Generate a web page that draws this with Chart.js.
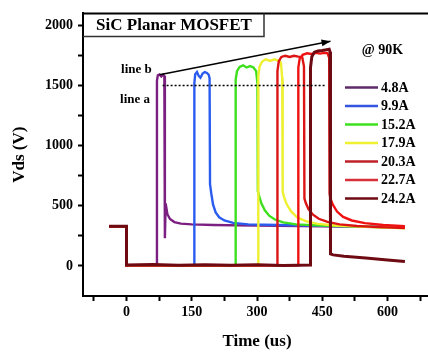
<!DOCTYPE html>
<html>
<head>
<meta charset="utf-8">
<script src="https://cdn.jsdelivr.net/npm/chart.js@4.4.1/dist/chart.umd.min.js"></script>
<style>
    html, body { margin: 0; padding: 0; background: #fff; overflow: hidden; }
</style>
</head>
<body>
<canvas id="chart" width="434" height="354"></canvas>
<script>
// series labels and colours
const currents = ['4.8A', '9.9A', '15.2A', '17.9A', '20.3A', '22.7A', '24.2A'];
const traceColors = ['#7b2080', '#2a5cf0', '#3ee01e', '#eef030', '#dc1414', '#f01212', '#6e0a12'];
const legendColors = ['#5e2a6a', '#3355e0', '#3ee01e', '#eef030', '#c0202a', '#d8303a', '#6e0a12'];

// time (us) / Vds (V)
const time48 = [-40, 0, 0, 70, 70, 72, 76, 80, 84, 87, 88, 88.5, 90, 94, 100, 110, 125, 150, 200, 300, 450, 640];
const vds48  = [330, 330, 5, 5, 1540, 1585, 1592, 1575, 1590, 1580, 1520, 230, 520, 430, 390, 365, 352, 346, 340, 335, 330, 322];

const time99 = [-40, 0, 0, 156, 156, 158, 162, 166, 170, 175, 180, 185, 189, 191, 192, 195, 199, 205, 213, 225, 245, 280, 350, 450, 640];
const vds99  = [330, 330, 5, 5, 1520, 1595, 1612, 1580, 1565, 1600, 1612, 1605, 1590, 1560, 680, 600, 510, 445, 405, 378, 358, 346, 340, 333, 322];

const time152 = [-40, 0, 0, 251, 251, 254, 260, 268, 276, 284, 292, 298, 301, 302, 305, 310, 318, 328, 340, 360, 390, 450, 640];
const vds152  = [330, 330, 5, 5, 1550, 1620, 1655, 1668, 1650, 1662, 1650, 1620, 1520, 620, 580, 520, 462, 418, 388, 362, 346, 335, 318];

const time179 = [-40, 0, 0, 303, 303, 306, 312, 320, 330, 340, 350, 355, 358, 359, 362, 368, 378, 392, 412, 440, 480, 550, 640];
const vds179  = [330, 330, 5, 5, 1580, 1660, 1700, 1718, 1705, 1718, 1705, 1690, 1560, 620, 575, 515, 455, 405, 372, 350, 336, 326, 314];

const time203 = [-40, 0, 0, 347, 347, 350, 356, 365, 375, 385, 395, 404, 408, 409, 412, 418, 428, 442, 462, 490, 530, 580, 640];
const vds203  = [330, 330, 5, 5, 1620, 1700, 1738, 1748, 1738, 1748, 1740, 1735, 1660, 560, 525, 475, 428, 392, 366, 346, 332, 323, 316];

const time227 = [-40, 0, 0, 395, 395, 398, 405, 415, 425, 435, 445, 455, 462, 466, 467, 469, 474, 484, 498, 518, 548, 590, 640];
const vds227  = [330, 330, 5, 5, 1650, 1722, 1756, 1768, 1762, 1772, 1766, 1772, 1770, 1730, 600, 560, 512, 452, 408, 378, 356, 340, 330];

const time242 = [-40, 0, 0, 60, 120, 180, 240, 300, 360, 423, 423, 426, 432, 440, 450, 460, 466, 468, 469, 475, 500, 550, 600, 640];
const vds242  = [330, 330, 8, 12, 6, 10, 5, 9, 4, 8, 1650, 1740, 1778, 1788, 1792, 1798, 1802, 1780, 100, 92, 80, 66, 50, 36];

// annotation lines
const lineATime = [83, 458];
const lineAVds  = [1500, 1500];
const lineBTime = [76, 469];
const lineBVds  = [1590, 1869];

// axis ticks
const xTicks  = [-75, 0, 75, 150, 225, 300, 375, 450, 525, 600, 675];
const xLabels = [0, 150, 300, 450, 600];
const yTicks  = [0, 250, 500, 750, 1000, 1250, 1500, 1750, 2000];
const yLabels = [0, 500, 1000, 1500, 2000];

const FONT = '"Liberation Serif", "Times New Roman", serif';

function pairs(t, v) {
    return t.map((x, i) => ({ x: x, y: v[i] }));
}

const traces = [
    [time48, vds48], [time99, vds99], [time152, vds152], [time179, vds179],
    [time203, vds203], [time227, vds227], [time242, vds242]
];

const datasets = traces.map((tr, i) => ({
    label: currents[i],
    data: pairs(tr[0], tr[1]),
    borderColor: traceColors[i],
    borderWidth: i === 6 ? 3 : 2.4,
    pointRadius: 0,
    tension: 0,
    fill: false,
    order: 20 - i   // later currents drawn on top
}));

datasets.push({
    label: 'line a',
    data: pairs(lineATime, lineAVds),
    borderColor: '#000',
    borderWidth: 1.6,
    borderDash: [2, 2],
    pointRadius: 0,
    order: 1
});
datasets.push({
    label: 'line b',
    data: pairs(lineBTime, lineBVds),
    borderColor: '#000',
    borderWidth: 1.5,
    pointRadius: 0,
    order: 0
});

const decor = {
    id: 'decor',
    afterDraw(chart) {
        const ctx = chart.ctx;
        const a = chart.chartArea;
        const xs = chart.scales.x, ys = chart.scales.y;
        ctx.save();

        // top frame
        ctx.strokeStyle = '#000';
        ctx.lineWidth = 2;
        ctx.beginPath();
        ctx.moveTo(a.left - 1, a.top);
        ctx.lineTo(a.right, a.top);
        ctx.lineTo(a.right, a.bottom);
        ctx.stroke();

        // title box
        ctx.lineWidth = 1.5;
        ctx.strokeStyle = '#333';
        ctx.beginPath();
        ctx.moveTo(a.left, a.top + 23);
        ctx.lineTo(a.left + 181, a.top + 23);
        ctx.lineTo(a.left + 181, a.top);
        ctx.stroke();
        ctx.fillStyle = '#000';
        ctx.font = 'bold 17px ' + FONT;
        ctx.textAlign = 'center';
        ctx.textBaseline = 'middle';
        ctx.fillText('SiC Planar MOSFET', a.left + 91, a.top + 12.5);

        // arrow head on line b
        const x1 = xs.getPixelForValue(lineBTime[0]), y1 = ys.getPixelForValue(lineBVds[0]);
        const x2 = xs.getPixelForValue(lineBTime[1]), y2 = ys.getPixelForValue(lineBVds[1]);
        const ang = Math.atan2(y2 - y1, x2 - x1);
        ctx.beginPath();
        ctx.moveTo(x2, y2);
        ctx.lineTo(x2 - 9 * Math.cos(ang) + 3.5 * Math.sin(ang), y2 - 9 * Math.sin(ang) - 3.5 * Math.cos(ang));
        ctx.lineTo(x2 - 9 * Math.cos(ang) - 3.5 * Math.sin(ang), y2 - 9 * Math.sin(ang) + 3.5 * Math.cos(ang));
        ctx.closePath();
        ctx.fill();

        // line labels
        ctx.font = 'bold 13px ' + FONT;
        ctx.textAlign = 'right';
        ctx.fillText('line b', xs.getPixelForValue(58), ys.getPixelForValue(1634));
        ctx.fillText('line a', xs.getPixelForValue(54), ys.getPixelForValue(1382));

        // temperature
        ctx.font = 'bold 14px ' + FONT;
        ctx.textAlign = 'center';
        ctx.fillText('@ 90K', 382.5, a.top + 37);

        // legend
        ctx.textAlign = 'left';
        currents.forEach((c, i) => {
            const y = a.top + 74 + i * 18.5;
            ctx.strokeStyle = legendColors[i];
            ctx.lineWidth = 2.5;
            ctx.beginPath();
            ctx.moveTo(345, y);
            ctx.lineTo(378, y);
            ctx.stroke();
            ctx.fillStyle = '#000';
            ctx.fillText(c, 381, y + 0.5);
        });
        ctx.restore();
    }
};

window.onload = () => {
    const ctx = document.getElementById('chart').getContext('2d');
    new Chart(ctx, {
        type: 'line',
        data: { datasets: datasets },
        options: {
            responsive: false,
            animation: false,
            layout: { padding: { top: 10, right: 3, left: 0, bottom: 0 } },
            plugins: {
                legend: { display: false },
                tooltip: { enabled: false }
            },
            scales: {
                x: {
                    type: 'linear',
                    min: -100,
                    max: 700,
                    afterBuildTicks: s => { s.ticks = xTicks.map(v => ({ value: v })); },
                    afterFit: s => { s.height = 58; },
                    ticks: {
                        autoSkip: false,
                        maxRotation: 0,
                        padding: 3,
                        color: '#000',
                        font: { family: FONT, size: 14, weight: 'bold' },
                        callback: v => xLabels.includes(v) ? String(v) : ''
                    },
                    grid: { drawOnChartArea: false, tickLength: 5, tickColor: '#000', tickWidth: 2 },
                    border: { color: '#000', width: 2 },
                    title: {
                        display: true,
                        text: 'Time (us)',
                        color: '#000',
                        font: { family: FONT, size: 17, weight: 'bold' },
                        padding: { top: 0, bottom: 2 }
                    }
                },
                y: {
                    min: -250,
                    max: 2100,
                    afterBuildTicks: s => { s.ticks = yTicks.map(v => ({ value: v })); },
                    afterFit: s => { s.width = 83; },
                    ticks: {
                        padding: 5,
                        color: '#000',
                        font: { family: FONT, size: 14, weight: 'bold' },
                        callback: v => yLabels.includes(v) ? String(v) : ''
                    },
                    grid: { drawOnChartArea: false, tickLength: 5, tickColor: '#000', tickWidth: 2 },
                    border: { color: '#000', width: 2 },
                    title: {
                        display: true,
                        text: 'Vds (V)',
                        color: '#000',
                        font: { family: FONT, size: 17, weight: 'bold' },
                        padding: { top: 9, bottom: 0 }
                    }
                }
            }
        },
        plugins: [decor]
    });
};
</script>
</body>
</html>
